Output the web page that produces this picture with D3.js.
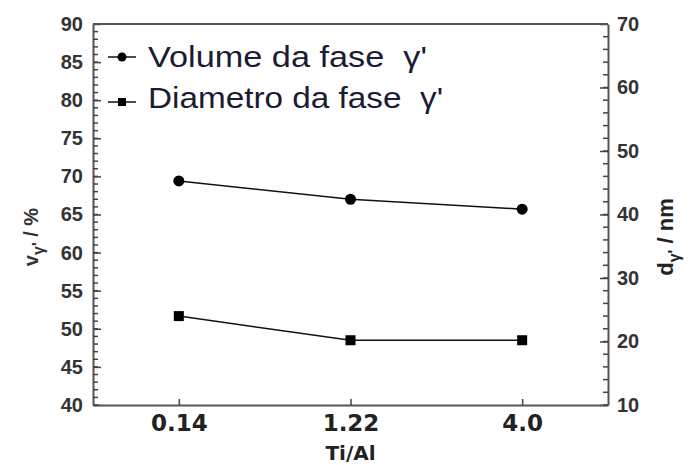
<!DOCTYPE html>
<html>
<head>
<meta charset="utf-8">
<script src="https://cdn.jsdelivr.net/npm/d3@7"></script>
<style>
  body { margin: 0; background: #fff; }
  svg { font-family: Arial, "Liberation Sans", sans-serif; }
</style>
</head>
<body>
<div class="chart"></div>
<script>
// data
const ratios = ['0.14', '1.22', '4.0'];
const volume = [69.4, 67.0, 65.7];     // left axis, %
const diameter = [24.0, 20.2, 20.2];   // right axis, nm
const leftTicks = [40, 45, 50, 55, 60, 65, 70, 75, 80, 85, 90];
const rightTicks = [10, 20, 30, 40, 50, 60, 70];
const leftMinor = d3.range(40, 91, 1);
const rightMinor = d3.range(10, 71, 2);

const width = 691;
const height = 465;
const m = {left: 93, right: 83, top: 24, bottom: 60};

const svg = d3.select('.chart')
    .append('svg')
    .attr('width', width)
    .attr('height', height);

const x = d3.scalePoint().domain(ratios).range([m.left, width - m.right]).padding(0.5);
const yL = d3.scaleLinear().domain([40, 90]).range([height - m.bottom, m.top]);
const yR = d3.scaleLinear().domain([10, 70]).range([height - m.bottom, m.top]);

const axisColor = '#555';

const left = svg.append('g')
    .attr('transform', `translate(${m.left},0)`)
    .call(d3.axisLeft(yL).tickValues(leftTicks).tickSizeInner(-8).tickSizeOuter(0).tickPadding(10));
const right = svg.append('g')
    .attr('transform', `translate(${width - m.right},0)`)
    .call(d3.axisRight(yR).tickValues(rightTicks).tickSizeInner(-8).tickSizeOuter(0).tickPadding(9));
const bottom = svg.append('g')
    .attr('transform', `translate(0,${height - m.bottom})`)
    .call(d3.axisBottom(x).tickSizeInner(-6).tickSizeOuter(0).tickPadding(10));

svg.selectAll('.tick line').attr('stroke', '#444').attr('stroke-width', 1.5);
[left, right, bottom].forEach(g => {
    g.select('.domain').attr('stroke', axisColor).attr('stroke-width', 2);
    g.selectAll('text').attr('fill', '#333').attr('font-weight', 'bold');
});
left.selectAll('text').attr('font-size', 20).attr('font-family', 'Arial, "Liberation Sans", sans-serif');
right.selectAll('text').attr('font-size', 20).attr('font-family', 'Arial, "Liberation Sans", sans-serif');
bottom.selectAll('text').attr('font-size', 23).attr('fill', '#222')
    .attr('font-family', '"DejaVu Sans", sans-serif');

//minor ticks (inside the frame), drawn on top of the axis lines
const minor = svg.append('g').attr('class', 'minor-ticks');
minor.selectAll('line.minorL')
    .data(leftMinor)
    .join('line')
    .attr('class', 'minorL')
    .attr('x1', m.left).attr('x2', m.left + 5)
    .attr('y1', d => yL(d)).attr('y2', d => yL(d))
    .attr('stroke', '#444').attr('stroke-width', 1.5);
minor.selectAll('line.minorR')
    .data(rightMinor)
    .join('line')
    .attr('class', 'minorR')
    .attr('x1', width - m.right).attr('x2', width - m.right - 5)
    .attr('y1', d => yR(d)).attr('y2', d => yR(d))
    .attr('stroke', '#444').attr('stroke-width', 1.5);

//top border
svg.append('line')
    .attr('x1', m.left).attr('x2', width - m.right)
    .attr('y1', m.top).attr('y2', m.top)
    .attr('stroke', axisColor).attr('stroke-width', 2);

//series lines
const lineL = d3.line().x((d, i) => x(ratios[i])).y(d => yL(d));
const lineR = d3.line().x((d, i) => x(ratios[i])).y(d => yR(d));

svg.append('path').datum(volume).attr('d', lineL)
    .attr('fill', 'none').attr('stroke', '#111').attr('stroke-width', 1.5);
svg.append('path').datum(diameter).attr('d', lineR)
    .attr('fill', 'none').attr('stroke', '#111').attr('stroke-width', 1.5);

svg.selectAll('circle.vol')
    .data(volume)
    .enter()
    .append('circle')
    .attr('class', 'vol')
    .attr('cx', (d, i) => x(ratios[i]))
    .attr('cy', d => yL(d))
    .attr('r', 5.5)
    .attr('fill', '#000');

svg.selectAll('rect.dia')
    .data(diameter)
    .enter()
    .append('rect')
    .attr('class', 'dia')
    .attr('x', (d, i) => x(ratios[i]) - 5)
    .attr('y', d => yR(d) - 5)
    .attr('width', 10)
    .attr('height', 10)
    .attr('fill', '#000');

//legend
const legend = svg.append('g');
legend.append('line').attr('x1', 108).attr('x2', 136).attr('y1', 57).attr('y2', 57)
    .attr('stroke', '#111').attr('stroke-width', 1.5);
legend.append('circle').attr('cx', 122).attr('cy', 57).attr('r', 4.5).attr('fill', '#000');
legend.append('line').attr('x1', 108).attr('x2', 136).attr('y1', 102).attr('y2', 102)
    .attr('stroke', '#111').attr('stroke-width', 1.5);
legend.append('rect').attr('x', 118).attr('y', 98).attr('width', 8).attr('height', 8).attr('fill', '#000');
legend.append('text').text('Volume da fase  γ\'')
    .attr('x', 148).attr('y', 67).attr('font-size', 29).attr('fill', '#1b1b33')
    .attr('textLength', 279).attr('lengthAdjust', 'spacingAndGlyphs')
    .style('white-space', 'pre');
legend.append('text').text('Diametro da fase  γ\'')
    .attr('x', 148).attr('y', 108).attr('font-size', 29).attr('fill', '#1b1b33')
    .attr('textLength', 295).attr('lengthAdjust', 'spacingAndGlyphs')
    .style('white-space', 'pre');

//axis titles
const tl = svg.append('text')
    .attr('transform', 'translate(38,237) rotate(-90)')
    .attr('text-anchor', 'middle')
    .attr('font-weight', 'bold').attr('font-size', 20).attr('fill', '#333');
tl.append('tspan').text('v');
tl.append('tspan').text('γ\'').attr('dy', 6).attr('font-size', 16);
tl.append('tspan').text(' / %').attr('dy', -6);

const tr = svg.append('text')
    .attr('transform', 'translate(673,237) rotate(-90)')
    .attr('text-anchor', 'middle')
    .attr('font-weight', 'bold').attr('font-size', 22).attr('fill', '#222');
tr.append('tspan').text('d');
tr.append('tspan').text('γ\'').attr('dy', 7).attr('font-size', 16);
tr.append('tspan').text(' / nm').attr('dy', -7);

svg.append('text')
    .text('Ti/Al')
    .attr('x', x('1.22'))
    .attr('y', 460)
    .attr('text-anchor', 'middle')
    .attr('font-family', '"DejaVu Sans", sans-serif')
    .attr('font-weight', 'bold')
    .attr('font-size', 20)
    .attr('fill', '#222');
</script>
</body>
</html>
